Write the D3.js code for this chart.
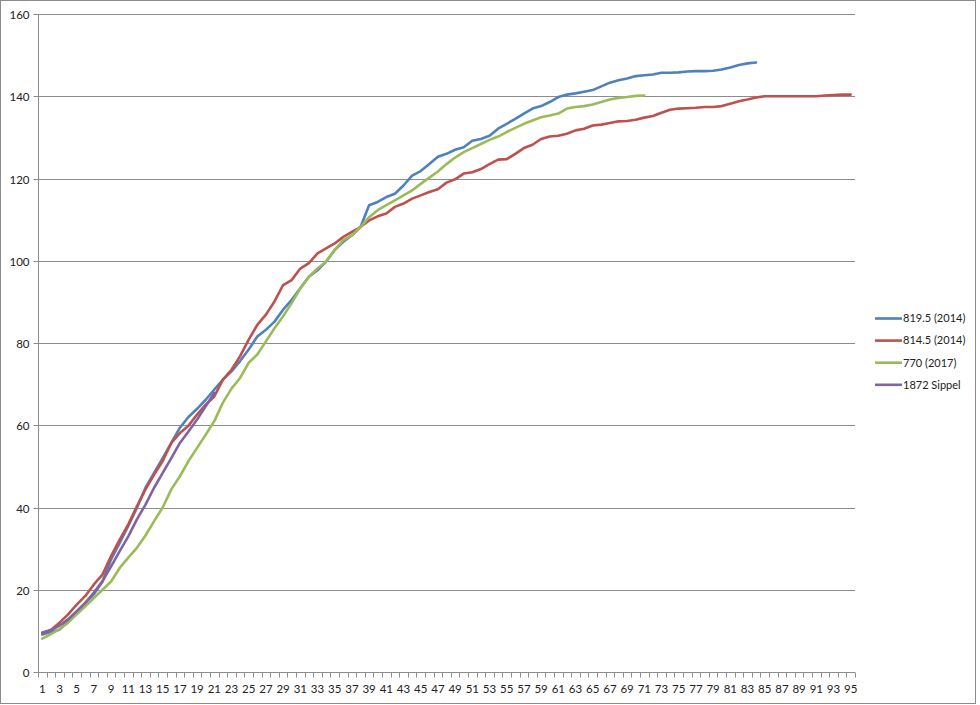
<!DOCTYPE html>
<html><head><meta charset="utf-8">
<script src="https://cdn.jsdelivr.net/npm/d3@7"></script>
<style>body{margin:0;background:#fff}svg{display:block}text{font-family:Lato,"Open Sans",sans-serif;fill:#222}</style>
</head><body><svg id="c" width="980" height="705"></svg>
<script>
const categories = d3.range(1, 96);
const yTicks = [0, 20, 40, 60, 80, 100, 120, 140, 160];
const seriesNames = ["819.5 (2014)", "814.5 (2014)", "770 (2017)", "1872 Sippel"];
const seriesColors = ["#4F81BD", "#C0504D", "#9BBB59", "#8064A2"];
const s819 = [9.1,9.7,10.3,12.4,14.6,16.8,18.9,22.0,27.4,31.4,35.5,39.9,44.8,48.4,52.0,55.7,59.4,62.0,64.0,66.2,68.7,71.1,73.1,75.6,78.4,81.6,83.2,85.2,88.1,90.5,93.3,96.1,97.7,99.8,102.6,104.6,106.2,108.2,113.5,114.3,115.5,116.3,118.3,120.7,121.8,123.5,125.3,126.0,127.0,127.6,129.2,129.6,130.4,132.1,133.3,134.5,135.8,137.0,137.6,138.6,139.8,140.4,140.7,141.1,141.5,142.4,143.3,143.9,144.3,144.9,145.1,145.3,145.7,145.7,145.8,146.0,146.1,146.1,146.2,146.5,147.0,147.6,148.0,148.2];
const s814 = [9.4,10.2,12.0,14.0,16.4,18.5,21.3,23.7,28.2,32.2,35.9,40.3,44.4,48.0,51.3,55.7,58.1,59.9,62.6,65.0,67.0,71.1,73.5,76.8,80.8,84.4,86.9,90.1,94.1,95.3,98.1,99.4,101.8,103.0,104.2,105.8,107.0,108.2,109.8,110.8,111.5,113.1,113.9,115.1,115.9,116.7,117.4,119.0,119.8,121.2,121.5,122.3,123.5,124.6,124.7,126.0,127.4,128.2,129.6,130.2,130.4,130.9,131.7,132.1,132.9,133.1,133.5,133.9,134.0,134.3,134.8,135.2,136.0,136.7,137.0,137.1,137.2,137.4,137.4,137.6,138.2,138.8,139.2,139.7,140.0,140.0,140.0,140.0,140.0,140.0,140.0,140.2,140.3,140.4,140.4];
const s770 = [8.1,9.2,10.4,12.0,14.0,16.0,18.0,20.0,22.0,25.3,27.8,30.2,33.2,36.7,40.0,44.4,47.6,51.3,54.5,57.7,61.0,65.5,68.9,71.5,75.2,77.2,80.4,83.6,86.5,89.7,93.3,96.1,98.1,99.8,102.6,105.0,106.2,108.2,110.6,112.3,113.5,114.7,115.9,117.1,118.7,120.2,121.7,123.5,125.1,126.4,127.4,128.4,129.4,130.2,131.3,132.3,133.3,134.1,134.9,135.3,135.8,137.0,137.4,137.6,138.0,138.6,139.2,139.6,139.8,140.1,140.2];
const s1872 = [9.6,10.2,11.3,12.8,14.8,16.8,19.3,22.1,25.7,29.4,33.0,37.1,40.7,44.8,48.4,52.0,55.7,58.5,61.4,64.6,67.9];
const seriesData = [s819, s814, s770, s1872];

const svg = d3.select("#c");
svg.append("rect").attr("x",0.5).attr("y",0.5).attr("width",975).attr("height",703)
  .attr("fill","#fff").attr("stroke","#8c8c8c").attr("stroke-width",1);

const x = d3.scaleBand().domain(categories).range([38, 855]).paddingInner(0).paddingOuter(0);
const y = d3.scaleLinear().domain([0, 160]).range([672, 14]);
const cx = d => x(d) + x.bandwidth()/2;

// gridlines
svg.append("g").selectAll("line").data(yTicks.filter(t=>t>0)).join("line")
  .attr("x1",38).attr("x2",855).attr("y1",d=>Math.round(y(d))+0.5).attr("y2",d=>Math.round(y(d))+0.5)
  .attr("stroke","#8c8c8c").attr("stroke-width",1);

// y axis
const ya = svg.append("g").attr("transform","translate(38.5,0)")
  .call(d3.axisLeft(y).tickValues(yTicks).tickSize(5).tickPadding(4).tickFormat(d3.format("d")));
ya.select(".domain").attr("stroke","#8c8c8c").attr("d","M0,14V672.5");
ya.selectAll(".tick line").attr("stroke","#8c8c8c");
ya.selectAll(".tick").attr("transform", d=>`translate(0,${Math.round(y(d))+0.5})`);
ya.selectAll("text").style("font-size","11.5px").attr("fill","#222").attr("dy","0.35em");

// x axis
const xa = svg.append("g").attr("transform","translate(0,672.5)");
xa.append("line").attr("x1",38).attr("x2",855).attr("stroke","#8c8c8c");
const bounds = d3.range(0, categories.length+1).map(i => 38 + i * x.bandwidth());
xa.selectAll("line.t").data(bounds).join("line").attr("class","t")
  .attr("x1",d=>Math.round(d)+0.5).attr("x2",d=>Math.round(d)+0.5).attr("y1",0).attr("y2",5).attr("stroke","#8c8c8c");
xa.selectAll("text").data(categories.filter(c=>c%2===1)).join("text")
  .attr("x",d=>cx(d)).attr("y",20).attr("text-anchor","middle").style("font-size","11.5px").text(d=>d);

// lines
const line = d3.line().x((d,i)=>cx(categories[i])).y(d=>y(d));
seriesData.forEach((s,k)=>{
  svg.append("path").datum(s).attr("d",line).attr("fill","none")
    .attr("stroke",seriesColors[k]).attr("stroke-width",2.6).attr("stroke-linejoin","round").attr("stroke-linecap","round");
});

// legend
const lg = svg.append("g");
seriesNames.forEach((n,k)=>{
  const yy = 318.5 + k*22.1;
  lg.append("line").attr("x1",875).attr("x2",902).attr("y1",yy).attr("y2",yy)
    .attr("stroke",seriesColors[k]).attr("stroke-width",2.6);
  lg.append("text").attr("x",903).attr("y",yy).attr("dy","0.35em").style("font-size","11px").text(n);
});
</script></body></html>
